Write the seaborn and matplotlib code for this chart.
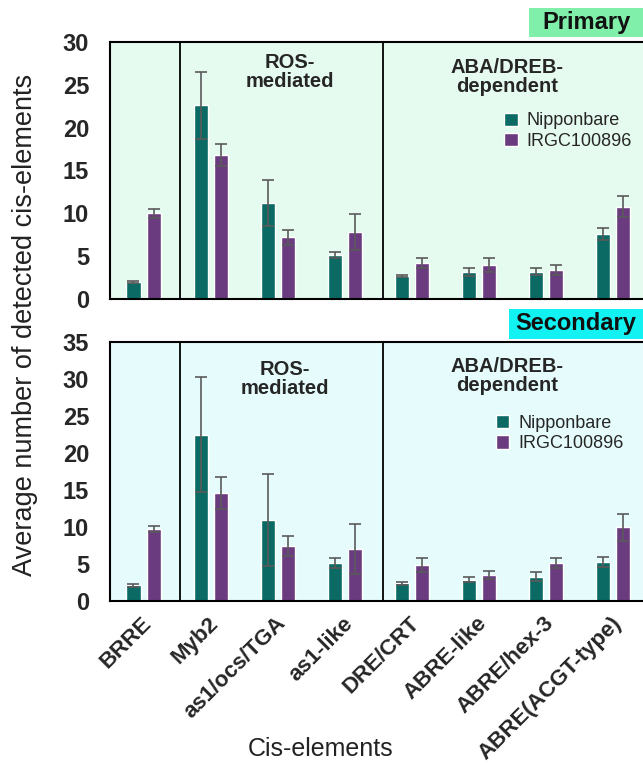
import numpy as np
import pandas as pd
import matplotlib
matplotlib.use("Agg")
import matplotlib.pyplot as plt
import matplotlib.transforms as mtransforms
from matplotlib.patches import Rectangle
import seaborn as sns

# ==========================================
# Data
# ==========================================
elements = ["BRRE", "Myb2", "as1/ocs/TGA", "as1-like",
            "DRE/CRT", "ABRE-like", "ABRE/hex-3", "ABRE(ACGT-type)"]
genotypes = ["Nipponbare", "IRGC100896"]

prim_nip = [2.0, 22.6, 11.2, 5.15, 2.7, 3.2, 3.2, 7.6]
prim_nip_err = [0.1, 3.9, 2.7, 0.4, 0.15, 0.5, 0.4, 0.7]
prim_irgc = [10.0, 16.8, 7.2, 7.8, 4.2, 4.0, 3.4, 10.8]
prim_irgc_err = [0.5, 1.3, 0.9, 2.1, 0.6, 0.8, 0.55, 1.2]

sec_nip = [2.1, 22.45, 10.9, 5.1, 2.4, 2.85, 3.3, 5.3]
sec_nip_err = [0.15, 7.8, 6.2, 0.7, 0.2, 0.35, 0.6, 0.7]
sec_irgc = [9.76, 14.6, 7.4, 7.0, 4.85, 3.5, 5.1, 9.95]
sec_irgc_err = [0.4, 2.2, 1.35, 3.4, 0.9, 0.6, 0.7, 1.85]

group_labels = ["ROS-\nmediated", "ABA/DREB-\ndependent"]

# ==========================================
# Style
# ==========================================
COLORS = {"Nipponbare": "#0b6a64", "IRGC100896": "#6a3c7f"}
ERR_COLOR = "#5a5a5a"
FONT = ["Liberation Sans", "DejaVu Sans"]

sns.set_style("white")
plt.rcParams["font.family"] = FONT

fig = plt.figure(figsize=(6.43, 7.65), dpi=100)


def make_df(nip, irgc):
    return pd.DataFrame({
        "element": elements * 2,
        "genotype": [genotypes[0]] * len(elements) + [genotypes[1]] * len(elements),
        "value": list(nip) + list(irgc),
    })


def draw_panel(rect, nip, nip_err, irgc, irgc_err, ymax, bg, group_pos, legend_xy,
               show_xticks):
    ax = fig.add_axes(rect)
    ax.set_facecolor(bg)
    df = make_df(nip, irgc)
    sns.barplot(data=df, x="element", y="value", hue="genotype", order=elements,
                hue_order=genotypes, palette=COLORS, width=0.6, gap=0.3,
                errorbar=None, saturation=1, ax=ax)

    # error bars on top of the seaborn bars
    for cont, vals, errs in zip(ax.containers, [nip, irgc], [nip_err, irgc_err]):
        for bar, v, e in zip(cont, vals, errs):
            xc = bar.get_x() + bar.get_width() / 2
            ax.errorbar(xc, v, yerr=e, color=ERR_COLOR, lw=1.2, capsize=4,
                        capthick=1.2, zorder=5)

    ax.set_xlim(-0.5, 7.5)
    ax.set_ylim(0, ymax)
    ax.set_yticks(np.arange(0, ymax + 1, 5))
    ax.tick_params(axis="y", length=0, pad=15, labelsize=17)
    for lbl in ax.get_yticklabels():
        lbl.set_fontweight("bold")
    ax.set_xlabel("")
    ax.set_ylabel("")

    for s in ["left", "bottom", "top", "right"]:
        ax.spines[s].set_color("black")
        ax.spines[s].set_linewidth(1.5)

    # group separators
    for xs in [0.55, 3.57]:
        ax.axvline(xs, color="black", lw=1.3, zorder=1)

    for (gx, gy), txt in zip(group_pos, group_labels):
        ax.text(gx, gy, txt, ha="center", va="center", fontsize=14.5,
                fontweight="bold", linespacing=1.0)

    handles, labels = ax.get_legend_handles_labels()
    ax.legend(handles, labels, loc="upper left", bbox_to_anchor=legend_xy,
              bbox_transform=fig.transFigure, frameon=False, fontsize=13,
              handlelength=0.75, handleheight=0.75, handletextpad=0.5,
              labelspacing=0.2, borderpad=0, borderaxespad=0)

    if show_xticks:
        ax.tick_params(axis="x", length=0, pad=14)
        ax.set_xticks(range(len(elements)))
        ax.set_xticklabels(elements, rotation=45, ha="right", va="center",
                           rotation_mode="anchor", fontsize=16, fontweight="bold")
        offset = mtransforms.ScaledTranslation(0.05, 0, fig.dpi_scale_trans)
        for lbl in ax.get_xticklabels():
            lbl.set_transform(lbl.get_transform() + offset)
    else:
        ax.set_xticks(range(len(elements)))
        ax.set_xticklabels([])
        ax.tick_params(axis="x", length=0)
    return ax


ax_top = draw_panel([0.1711, 0.6088, 0.8345, 0.3367], prim_nip, prim_nip_err,
                    prim_irgc, prim_irgc_err, 30, "#e6fbf0",
                    [(2.18, 26.5), (5.42, 25.9)], (0.784, 0.853), False)
ax_bot = draw_panel([0.1711, 0.2144, 0.8345, 0.3390], sec_nip, sec_nip_err,
                    sec_irgc, sec_irgc_err, 35, "#e6fcfc",
                    [(2.11, 30.0), (5.42, 30.4)], (0.771, 0.458), True)

# panel tags in the top-right corner
fig.add_artist(Rectangle((0.8227, 0.9516), 0.2, 0.0379, transform=fig.transFigure,
                         facecolor="#80efaa", edgecolor="none"))
fig.text(0.912, 0.9705, "Primary", ha="center", va="center", fontsize=17,
         fontweight="bold", color="#111111")
fig.add_artist(Rectangle((0.7916, 0.5569), 0.25, 0.0392, transform=fig.transFigure,
                         facecolor="#12f2f2", edgecolor="none"))
fig.text(0.896, 0.5765, "Secondary", ha="center", va="center", fontsize=17,
         fontweight="bold", color="#111111")

fig.text(0.039, 0.575, "Average number of detected cis-elements", rotation=90,
         ha="center", va="center", fontsize=19.5, color="#222222")
fig.text(0.499, 0.021, "Cis-elements", ha="center", va="center", fontsize=18,
         color="#222222")

fig.savefig("out.png", dpi=100)
